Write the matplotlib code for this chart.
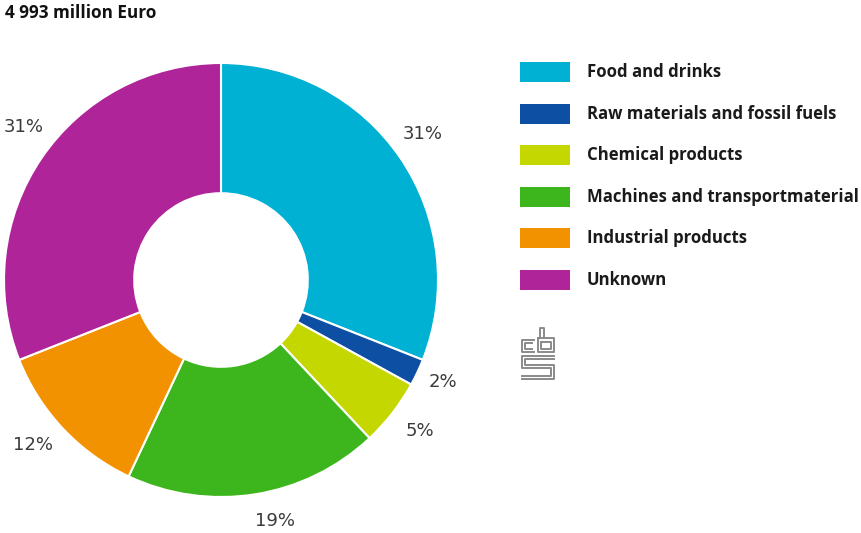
import matplotlib
matplotlib.use('Agg')
import matplotlib.pyplot as plt
import matplotlib.transforms as mtransforms
from matplotlib.patches import Rectangle

# export by product group, share in %
categories = ['Food and drinks', 'Raw materials and fossil fuels', 'Chemical products',
              'Machines and transportmaterial', 'Industrial products', 'Unknown']
shares = [31, 2, 5, 19, 12, 31]
pct_labels = ['31%', '2%', '5%', '19%', '12%', '31%']
colors = ['#00B1D3', '#0C4FA3', '#C4D700', '#3DB51D', '#F39200', '#AF2599']
title = '4 993 million Euro'

W, H = 861, 533
fig = plt.figure(figsize=(W / 100, H / 100), dpi=100)

# donut
ax = fig.add_axes([4 / W, 36 / H, 434 / W, 434 / H])
wedges, texts = ax.pie(shares, colors=colors, labels=pct_labels, startangle=90,
                       counterclock=False, labeldistance=1.14,
                       wedgeprops=dict(width=0.6, edgecolor='white', linewidth=1.5),
                       textprops=dict(fontsize=13, color='#3a3a3a'))
# small nudges (pixels, x right / y up) so the labels sit like the original
nudges = [(-3, 7), (-2, 3), (3, 1), (15, 3), (-8, 4), (7, 14)]
for t, (dx, dy) in zip(texts, nudges):
    t.set_ha('center')
    t.set_va('center')
    t.set_transform(t.get_transform() +
                    mtransforms.ScaledTranslation(dx / 100, dy / 100, fig.dpi_scale_trans))
ax.set_xlim(-1, 1)
ax.set_ylim(-1, 1)
ax.set_aspect('equal')
ax.axis('off')

fig.text(5 / W, 1 - 13 / H, title, fontsize=12.3, fontweight='bold',
         family='Open Sans', va='center', ha='left', color='#111111')

# legend
y0, step = 72, 41.6
for i, (cat, col) in enumerate(zip(categories, colors)):
    yc = y0 + i * step
    fig.patches.append(Rectangle((520 / W, 1 - (yc + 10) / H), 50 / W, 20 / H,
                                 transform=fig.transFigure, facecolor=col,
                                 edgecolor='none'))
    fig.text(587 / W, 1 - yc / H, cat, fontsize=12.1, fontweight='bold',
             family='Open Sans', va='center', ha='left', color='#1a1a1a')

# cbs logo (rough)
lax = fig.add_axes([518 / W, 1 - 382 / H, 40 / W, 56 / H])
lax.set_xlim(0, 40)
lax.set_ylim(56, 0)
lax.axis('off')
g = dict(color='#8a8a8a', lw=1.4)
lax.plot([22, 22, 26, 26], [12, 2, 2, 12], **g)
lax.plot([16, 4, 4, 16], [14, 14, 26, 26], **g)
lax.plot([14, 7, 7, 14], [17, 17, 23, 23], **g)
lax.plot([20, 20, 36, 36, 20], [12, 26, 26, 12, 12], **g)
lax.plot([23, 23, 33, 33, 23], [16, 23, 23, 16, 16], **g)
lax.plot([36, 4, 4, 33, 33, 4], [30, 30, 42, 42, 50, 50], **g)
lax.plot([36, 7, 7, 36, 36, 4], [33, 33, 39, 39, 53, 53], **g)

fig.savefig('out.png', dpi=100)
